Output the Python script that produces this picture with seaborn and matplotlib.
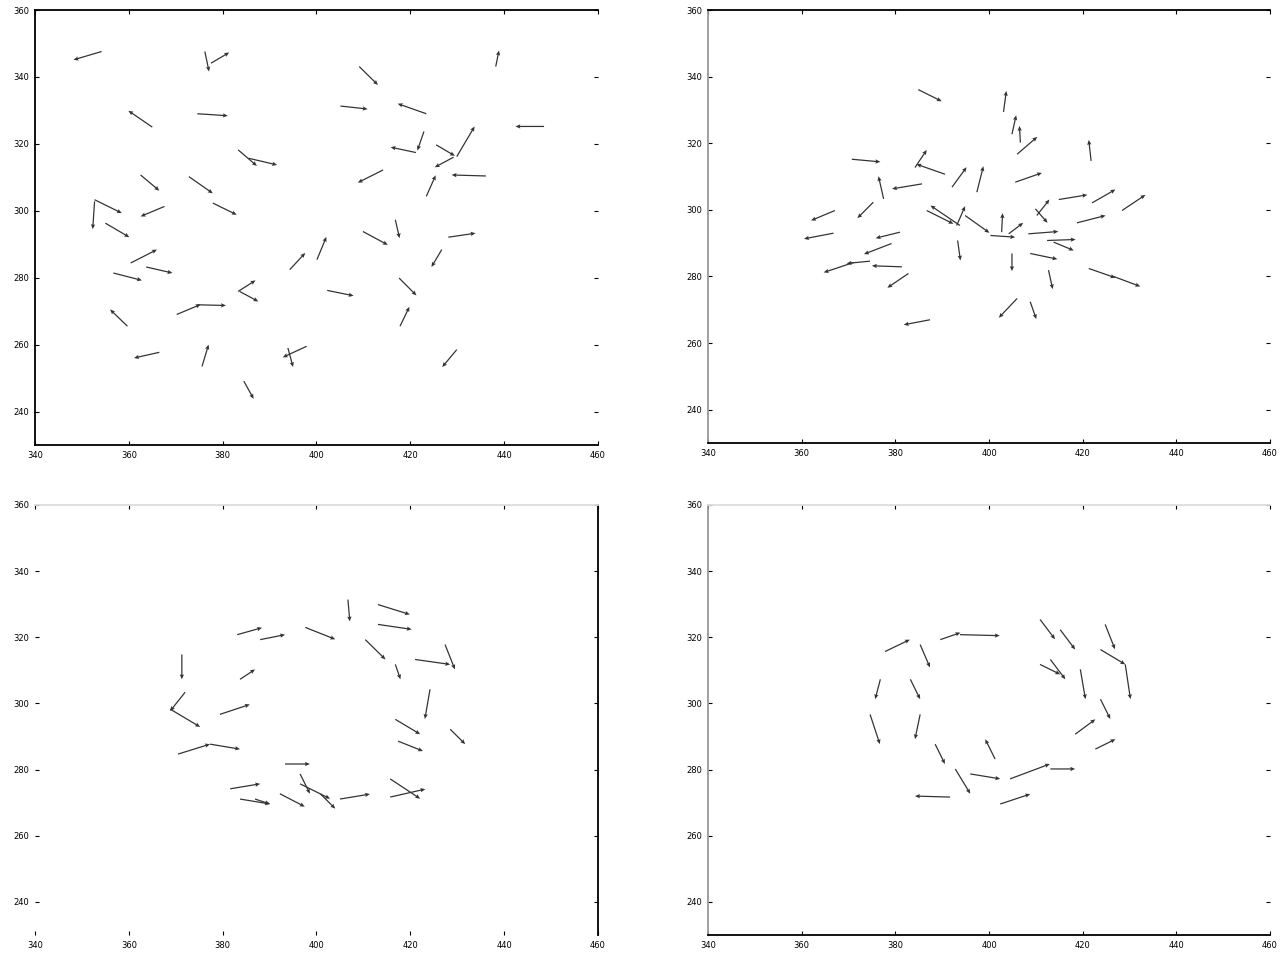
import numpy as np
import matplotlib
matplotlib.use("Agg")
import matplotlib.pyplot as plt
import seaborn as sns

# shared axis ticks (same frame in every snapshot)
x_ticks = [340, 360, 380, 400, 420, 440, 460]
y_ticks = [240, 260, 280, 300, 320, 340, 360]

# snapshot 1 (top left): scattered agents
tl_x = [354.2, 376.2, 377.5, 409.1, 438.2, 365.0, 374.6, 405.1, 423.4, 448.5, 421.2, 422.9,
        429.9, 425.5, 423.4, 429.2, 436.1, 414.2, 383.3, 385.5, 362.5, 372.8, 377.9, 352.7,
        352.7, 367.6, 355.0, 416.8, 409.9, 428.1, 400.1, 394.3, 360.4, 426.7, 363.7, 356.7,
        383.3, 383.6, 417.6, 402.3, 374.6, 370.2, 359.7, 417.8, 366.5, 375.6, 397.9, 393.9,
        429.9, 384.5]
tl_y = [347.6, 347.6, 344.1, 343.1, 343.1, 325.0, 329.0, 331.3, 329.0, 325.2, 317.4, 323.7,
        316.2, 319.7, 304.3, 316.0, 310.4, 312.2, 318.2, 315.7, 310.7, 310.2, 302.3, 303.3,
        302.8, 301.3, 296.3, 297.3, 293.8, 292.1, 285.4, 282.4, 284.4, 288.4, 283.2, 281.4,
        275.9, 275.9, 279.9, 276.2, 271.9, 269.0, 265.5, 265.5, 257.7, 253.5, 259.5, 259.0,
        258.5, 249.1]
tl_u = [-6.0, 0.9, 3.9, 4.0, 0.7, -5.1, 6.5, 5.8, -6.1, -6.1, -5.4, -1.4,
        3.8, 4.0, 2.0, -4.0, -7.3, -5.4, 4.0, 6.1, 4.0, 5.1, 5.1, 5.8,
        -0.4, -5.1, 5.1, 0.9, 5.3, 5.8, 2.0, 3.3, 5.6, -2.2, 5.6, 6.1,
        3.7, 4.0, 3.7, 5.6, 6.1, 5.1, -3.7, 2.0, -5.4, 1.4, -5.1, 1.1,
        -3.1, 2.1]
tl_v = [-2.5, -6.0, 3.2, -5.5, 4.8, 4.9, -0.6, -0.9, 3.0, 0.0, 1.6, -5.7,
        9.0, -3.3, 6.3, -3.0, 0.3, -3.8, -4.8, -2.0, -4.7, -5.0, -3.5, -4.0,
        -8.3, -3.0, -4.2, -5.5, -4.0, 1.2, 6.8, 5.0, 4.0, -5.2, -1.8, -2.2,
        3.3, -3.0, -5.2, -1.6, -0.2, 3.0, 5.0, 5.8, -1.7, 6.5, -3.3, -5.7,
        -5.2, -5.3]

# snapshot 2 (top right): agents gathering in the middle
tr_x = [384.9, 403.1, 404.9, 406.7, 406.0, 421.8, 370.7, 384.2, 390.6, 392.1, 397.4, 405.6,
        377.5, 385.7, 367.1, 375.3, 393.8, 386.7, 393.1, 394.9, 402.7, 400.3, 404.2, 410.2,
        409.9, 414.9, 422.0, 428.4, 418.8, 408.4, 412.4, 413.8, 408.8, 404.9, 393.3, 381.0,
        366.8, 379.2, 371.1, 381.4, 374.6, 382.8, 412.7, 421.3, 426.6, 406.0, 408.8, 387.4]
tr_y = [336.1, 329.4, 322.7, 320.2, 316.7, 314.7, 315.2, 312.7, 310.7, 306.8, 305.3, 308.3,
        303.3, 307.8, 299.8, 302.3, 295.3, 299.8, 295.3, 298.3, 293.3, 292.3, 292.8, 298.3,
        300.3, 303.1, 302.1, 299.8, 296.1, 292.8, 290.8, 290.3, 286.9, 286.9, 290.8, 293.3,
        293.0, 289.9, 284.2, 282.9, 284.6, 280.9, 281.9, 282.4, 280.0, 273.4, 272.4, 267.0]
tr_u = [5.0, 0.6, 0.9, -0.2, 4.3, -0.5, 6.1, 2.5, -6.1, 3.1, 1.4, 5.7,
        -1.1, -6.4, -5.1, -3.4, -6.3, 5.7, 1.8, 5.2, 0.2, 5.3, 3.1, 2.7,
        2.6, 6.1, 5.0, 5.0, 6.1, 6.4, 6.1, 4.3, 5.8, 0.0, 0.6, -5.2,
        -6.3, -5.9, -6.4, -6.4, -5.0, -4.5, 0.9, 5.7, 5.7, -3.9, 1.3, -5.6]
tr_v = [-3.5, 6.3, 5.7, 5.0, 5.2, 6.3, -0.8, 5.3, 3.0, 6.0, 7.8, 2.8,
        6.8, -1.5, -3.0, -4.8, 6.0, -4.0, 5.8, -5.2, 5.7, -0.5, 3.3, 4.8,
        -4.2, 1.4, 4.0, 4.7, 2.2, 0.7, 0.3, -2.5, -1.7, -5.3, -6.0, -1.8,
        -1.7, -3.2, -3.0, 0.3, -0.7, -4.3, -5.7, -2.8, -3.0, -5.8, -5.2, -1.5]

# snapshot 3 (bottom left): a loose ring forms
bl_x = [371.3, 368.8, 383.1, 388.0, 397.6, 406.7, 413.1, 413.1, 410.4, 421.0, 427.4, 424.2,
        428.5, 416.8, 415.7, 415.7, 405.0, 396.5, 392.2, 393.3, 381.6, 377.3, 370.5, 379.4,
        383.7, 386.9, 372.0, 417.4, 400.8, 396.5, 383.7, 416.8]
bl_y = [314.8, 298.3, 320.8, 319.3, 323.0, 331.4, 329.9, 323.9, 319.3, 313.3, 317.8, 304.3,
        292.2, 295.2, 277.2, 271.7, 271.1, 275.7, 272.7, 281.7, 274.2, 287.7, 284.7, 296.7,
        307.3, 271.1, 303.4, 288.6, 272.7, 278.7, 271.1, 311.8]
bl_u = [0.0, 6.4, 5.3, 5.3, 6.4, 0.4, 6.8, 7.2, 4.3, 7.5, 2.1, -1.1,
        3.2, 5.3, 6.4, 7.5, 6.4, 6.4, 5.3, 5.3, 6.4, 6.4, 6.8, 6.4,
        3.2, 3.2, -3.2, 5.3, 3.2, 2.1, 6.4, 1.1]
bl_v = [-7.5, -5.4, 2.1, 1.5, -3.6, -6.6, -3.0, -1.5, -6.0, -1.5, -7.5, -9.0,
        -4.5, -4.5, -6.0, 2.4, 1.5, -4.5, -3.9, 0.0, 1.5, -1.5, 3.0, 3.0,
        3.0, -1.5, -5.7, -3.0, -4.5, -6.0, -1.5, -4.5]

# snapshot 4 (bottom right): a tighter milling ring
br_x = [377.8, 385.3, 389.6, 393.8, 376.8, 374.6, 383.2, 385.3, 388.5, 392.8, 391.7, 396.0,
        402.4, 404.5, 413.1, 401.3, 410.9, 415.2, 413.1, 419.5, 423.8, 424.8, 423.8, 429.1,
        418.4, 422.7, 410.9]
br_y = [315.7, 317.8, 319.3, 320.8, 307.3, 296.7, 307.3, 296.7, 287.7, 280.2, 271.7, 278.7,
        269.6, 277.2, 280.2, 283.2, 325.4, 322.3, 313.3, 310.3, 316.3, 323.9, 301.3, 311.8,
        290.7, 286.2, 311.8]
br_u = [5.3, 2.1, 4.3, 8.5, -1.1, 2.1, 2.1, -1.1, 2.1, 3.2, -7.5, 6.4,
        6.4, 8.5, 5.3, -2.1, 3.2, 3.2, 3.2, 1.1, 5.3, 2.1, 2.1, 1.1,
        4.3, 4.3, 4.3]
br_v = [3.6, -6.9, 2.1, -0.3, -6.0, -9.0, -6.0, -7.5, -6.0, -7.5, 0.3, -1.5,
        3.0, 4.5, 0.0, 6.0, -6.0, -6.0, -6.0, -9.0, -4.5, -7.5, -6.0, -10.5,
        4.5, 3.0, -3.0]

sns.set_style("ticks")
plt.rcParams["xtick.direction"] = "in"
plt.rcParams["ytick.direction"] = "in"

fig = plt.figure(figsize=(12.88, 9.58), dpi=100)
boxes = [
    [35 / 1288, 1 - 445 / 958, 563 / 1288, 435 / 958],
    [708 / 1288, 1 - 443 / 958, 562 / 1288, 433 / 958],
    [35 / 1288, 1 - 935 / 958, 563 / 1288, 430 / 958],
    [708 / 1288, 1 - 935 / 958, 562 / 1288, 430 / 958],
]
panels = [
    (tl_x, tl_y, tl_u, tl_v),
    (tr_x, tr_y, tr_u, tr_v),
    (bl_x, bl_y, bl_u, bl_v),
    (br_x, br_y, br_u, br_v),
]
# frame colours as they show in the original snapshots (None = not drawn)
spine_colors = [
    {"left": "black", "top": "black", "bottom": "black", "right": None},
    {"left": "#999999", "top": "black", "bottom": "black", "right": None},
    {"left": None, "top": "#dddddd", "bottom": None, "right": "black"},
    {"left": "#999999", "top": "#dddddd", "bottom": "black", "right": None},
]

for box, (x, y, u, v), sc in zip(boxes, panels, spine_colors):
    ax = fig.add_axes(box)
    ax.quiver(x, y, u, v, angles="xy", scale_units="xy", scale=1,
              color="#333333", width=0.0022, headwidth=3.5, headlength=4,
              headaxislength=3.5)
    ax.set_xlim(340, 460)
    ax.set_ylim(230, 360)
    ax.set_xticks(x_ticks)
    ax.set_yticks(y_ticks)
    ax.tick_params(labelsize=6, length=3, width=0.8, top=True, right=True,
                   colors="black", pad=4)
    for side, c in sc.items():
        if c is None:
            ax.spines[side].set_visible(False)
        else:
            ax.spines[side].set_color(c)
            ax.spines[side].set_linewidth(1.3)

fig.savefig("out.png", dpi=100)
